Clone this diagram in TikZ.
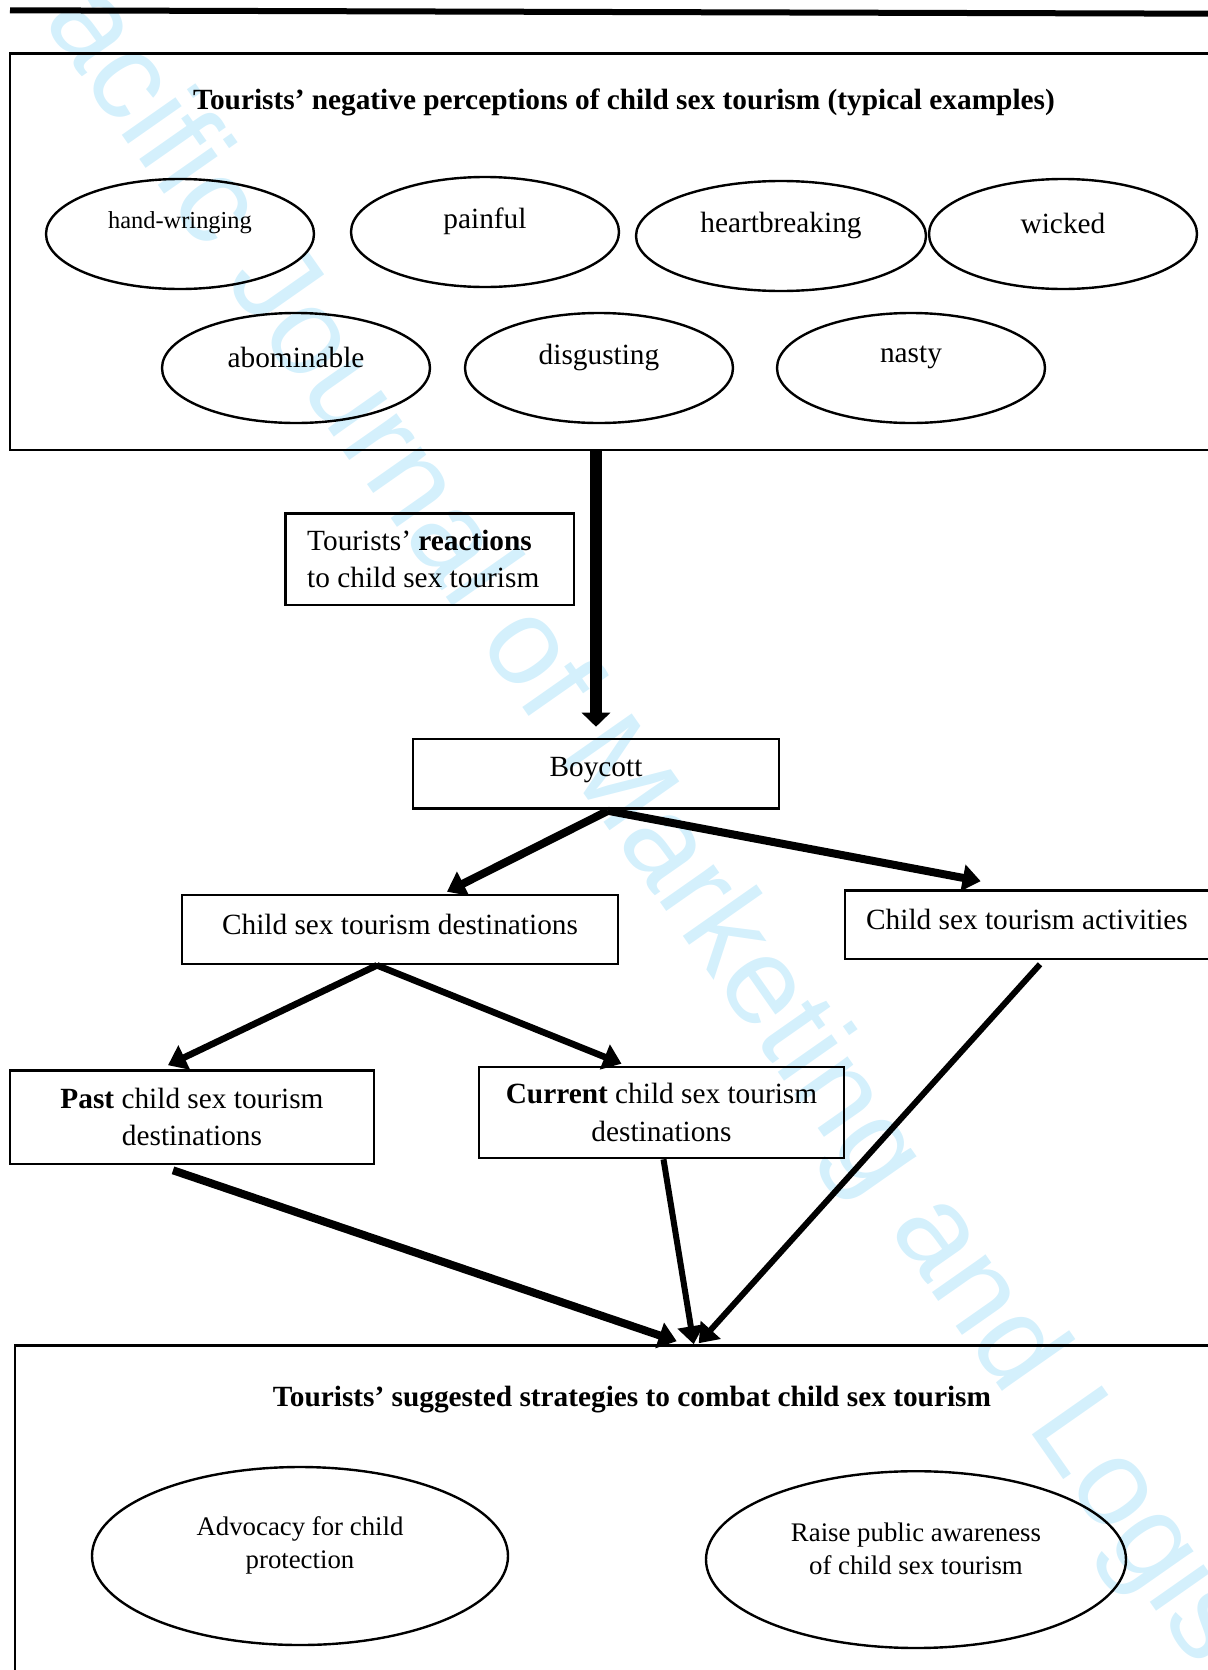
\documentclass[tikz,border=0pt]{standalone}
\usepackage{fontspec}
\setmainfont{Liberation Serif}
\newfontfamily\wmfont{Liberation Sans}
\usetikzlibrary{arrows.meta,shapes.geometric,fit,calc}
\definecolor{wmblue}{RGB}{212,240,252}

\begin{document}
\begin{tikzpicture}[x=0.5pt,y=-0.5pt,font=\fontsize{14.66}{18.6}\selectfont]
  \tikzset{>={Triangle[length=9pt,width=13pt]}}
  \tikzset{box/.style={draw,line width=1.3pt,inner sep=0pt},
           oval/.style={ellipse,draw,line width=1.2pt,minimum width=134pt,minimum height=55pt},
           headline/.style={font=\fontsize{14.66}{18.6}\selectfont\bfseries}}
  \useasboundingbox (0,0) rectangle (1208,1670);
  % watermark
  \node[wmblue,font=\wmfont\fontsize{62}{62}\selectfont,rotate=-55,anchor=mid] (mark) at (574,772) {Asia Pacific Journal of Marketing and Logistics};
  \draw[line width=3pt] (10,10.3) -- (1215,13.7);
  % negative perceptions
  \node[box,fit={(10,53.5) (1215,450)}] (percep) {};
  \node[headline] (perceptitle) at (624,102) {Tourists’ negative perceptions of child sex tourism (typical examples)};
  \node[oval,label={[yshift=5.5pt,font=\fontsize{12.2}{14}\selectfont]center:hand-wringing}] (hand) at (180,234) {};
  \node[oval,label={[yshift=5.5pt]center:painful}] (painful) at (485,232) {};
  \node[oval,minimum width=145pt,label={[yshift=5.5pt]center:heartbreaking}] (heart) at (781,236) {};
  \node[oval,label={[yshift=5.5pt]center:wicked}] (wicked) at (1063,234) {};
  \node[oval,label={[yshift=5.5pt]center:abominable}] (abomin) at (296,368) {};
  \node[oval,label={[yshift=5.5pt]center:disgusting}] (disgust) at (599,368) {};
  \node[oval,label={[yshift=5.5pt]center:nasty}] (nasty) at (911,368) {};
  % reactions
  \node[box,fit={(285.5,513.5) (574,605)},label={[align=left,xshift=-3.25pt]center:{Tourists’ \textbf{reactions}\\to child sex tourism}}] (react) {};
  \node[box,fit={(413,739) (779,808.5)},label={[yshift=2pt]center:Boycott}] (boycott) {};
  \node[box,fit={(182,895) (618,964)},label={[yshift=2.5pt]center:Child sex tourism destinations}] (dest) {};
  \node[box,fit={(845,890.5) (1215,959)},label={[yshift=2.5pt,xshift=-1.5pt]center:Child sex tourism activities}] (act) {};
  \node[box,fit={(10,1070.5) (374,1164)},label={[align=center]center:{\textbf{Past} child sex tourism\\destinations}}] (past) {};
  \node[box,fit={(479,1067) (844,1158)},label={[align=center]center:{\textbf{Current} child sex tourism\\destinations}}] (current) {};
  % strategies
  \node[box,fit={(15,1345.5) (1215,1680)}] (strat) {};
  \node[headline] (strattitle) at (632,1400) {Tourists’ suggested strategies to combat child sex tourism};
  \node[oval,minimum width=208pt,minimum height=89pt,label={[yshift=5.5pt,align=center,font=\fontsize{13.4}{16.5}\selectfont]center:{Advocacy for child\\protection}}] (advocacy) at (300,1556) {};
  \node[oval,minimum width=210pt,minimum height=88.4pt,label={[yshift=5.3pt,align=center,font=\fontsize{13.4}{16.5}\selectfont]center:{Raise public awareness\\of child sex tourism}}] (aware) at (916,1559.6) {};
  % arrows
  \draw[line width=6pt,-{Triangle[length=7pt,width=14pt]}] (percep.south -| boycott.north) -- ([yshift=5.5pt]boycott.north);
  \draw[->,line width=4pt] ($(boycott.south)+(12,1)$) -- ($(dest.north)+(47,-2)$);
  \draw[->,line width=4pt] ($(boycott.south)+(12,1)$) -- ($(act.north west)+(137,-8)$);
  \draw[->,line width=3.3pt] ($(dest.south)+(-23,0)$) -- ($(past.north)+(-24,-4)$);
  \draw[->,line width=3.3pt] ($(dest.south)+(-23,0)$) -- ($(current.north)+(-40,-2)$);
  \draw[->,line width=4pt] ($(past.south)+(-19,5)$) -- ($(strat.north west)+(663,-3)$);
  \draw[->,line width=3pt] ($(current.south)+(2,0)$) -- ($(strat.north west)+(680,0)$);
  \draw[->,line width=3pt] ($(act.south)+(10,4)$) -- ($(strat.north west)+(685,-1)$);
\end{tikzpicture}
\end{document}
